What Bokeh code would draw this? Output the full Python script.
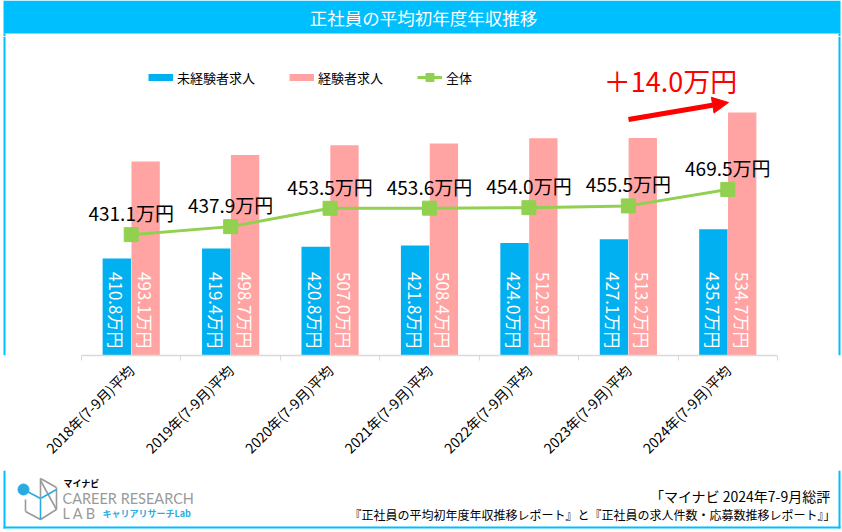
import math
from bokeh.plotting import figure
from bokeh.layouts import column, row
from bokeh.models import (Range1d, LinearAxis, FixedTicker, Legend, LegendItem,
                          Label, Arrow, NormalHead, ColumnDataSource)
from bokeh.core.properties import value
from bokeh.embed import file_html
from bokeh.resources import INLINE

# ---------------- data ----------------
categories = ["2018年(7-9月)平均", "2019年(7-9月)平均", "2020年(7-9月)平均",
              "2021年(7-9月)平均", "2022年(7-9月)平均", "2023年(7-9月)平均",
              "2024年(7-9月)平均"]
inexperienced = [410.8, 419.4, 420.8, 421.8, 424.0, 427.1, 435.7]
experienced = [493.1, 498.7, 507.0, 508.4, 512.9, 513.2, 534.7]
overall = [431.1, 437.9, 453.5, 453.6, 454.0, 455.5, 469.5]
series_names = ["未経験者求人", "経験者求人", "全体"]
unit = "万円"
title_text = "正社員の平均初年度年収推移"
source_lines = ["「マイナビ 2024年7-9月総評",
                "『正社員の平均初年度年収推移レポート』と『正社員の求人件数・応募数推移レポート』」"]

# ---------------- style ----------------
F = "Noto Sans CJK JP"
CYAN = "#00BFFF"
BLUE = "#00B0F0"
PINK = "#FFA3A3"
GREEN = "#92D050"
GRAY = "#9A9A9A"
LCY = "#29ABE2"
Y0, Y1 = 328.5, 599.3
W, H = 842, 532
HEAD_H, FOOT_H = 36, 62
STRIP = 6
MAIN_H = H - HEAD_H - FOOT_H          # 434
FL, FR, FT, FB = 81, 777, 36, 355      # main frame in page pixels


def blank(w, h):
    f = figure(width=w, height=h, x_range=Range1d(0, w), y_range=Range1d(h, 0),
               x_axis_location=None, y_axis_location=None, output_backend="svg",
               toolbar_location=None, min_border=0)
    f.outline_line_color = None
    f.grid.visible = False
    f.background_fill_color = "white"
    f.border_fill_color = "white"
    return f


# ---------------- header ----------------
head = blank(W, HEAD_H)
head.quad(left=[3], right=[840], top=[0], bottom=[33], fill_color=CYAN, line_color=None)
head.quad(left=[3, 838], right=[5, 840], top=[33, 33], bottom=[36, 36], fill_color=CYAN, line_color=None)
head.text(x=[423], y=[17], text=[title_text], text_align="center", text_baseline="middle",
          text_color="white", text_font=value(F), text_font_size="17.5px")

# ---------------- side strips ----------------
lstrip = blank(STRIP, MAIN_H)
lstrip.quad(left=[3], right=[5], top=[0], bottom=[MAIN_H], fill_color=CYAN, line_color=None)
rstrip = blank(STRIP, MAIN_H)
rstrip.quad(left=[2], right=[4], top=[0], bottom=[MAIN_H], fill_color=CYAN, line_color=None)

# ---------------- main chart ----------------
n = len(categories)
idx = list(range(n))
off = 0.145
bw = 0.285

p = figure(width=W - 2 * STRIP, height=MAIN_H, x_range=Range1d(-0.5, n - 0.5),
           y_range=Range1d(Y0, Y1), x_axis_location=None, y_axis_location=None,
           output_backend="svg", toolbar_location=None,
           min_border_left=FL - STRIP, min_border_right=W - STRIP - FR,
           min_border_top=0, min_border_bottom=HEAD_H + MAIN_H - FB)
p.outline_line_color = None
p.grid.visible = False
p.background_fill_color = "white"
p.border_fill_color = "white"


def sx(X):
    return X - FL


def sy(Y):
    return FB - Y


xa = LinearAxis(ticker=FixedTicker(ticks=idx, minor_ticks=[i - 0.5 for i in range(n + 1)]))
xa.major_label_overrides = {i: c for i, c in enumerate(categories)}
xa.major_label_orientation = math.pi / 4
xa.major_label_text_font = F
xa.major_label_text_font_size = "14px"
xa.major_label_text_color = "#000000"
xa.major_label_standoff = 6
xa.major_tick_line_color = None
xa.minor_tick_line_color = "#D9D9D9"
xa.minor_tick_in = 0
xa.minor_tick_out = 5
xa.axis_line_color = "#D9D9D9"
xa.axis_line_width = 1.5
p.add_layout(xa, "below")

src = ColumnDataSource(dict(
    xb=[i - off for i in idx], xp=[i + off for i in idx], x=idx,
    blue=inexperienced, pink=experienced, tot=overall,
    base=[Y0] * n,
    lb=[f"{v:.1f}{unit}" for v in inexperienced],
    lp=[f"{v:.1f}{unit}" for v in experienced],
    lt=[f"{v:.1f}{unit}" for v in overall],
))

p.vbar(x="xb", top="blue", bottom="base", width=bw, source=src, fill_color=BLUE, line_color=None)
p.vbar(x="xp", top="pink", bottom="base", width=bw, source=src, fill_color=PINK, line_color=None)

for xc, lc in (("xb", "lb"), ("xp", "lp")):
    p.text(x=xc, y="base", text=lc, source=src, angle=-math.pi / 2, text_align="right",
           text_baseline="middle", y_offset=-7, text_color="white",
           text_font=value(F), text_font_size="17px")

line_r = p.line(x="x", y="tot", source=src, line_color=GREEN, line_width=3)
sc_r = p.scatter(x="x", y="tot", source=src, marker="square", size=14,
                 fill_color=GREEN, line_color=GREEN)
p.text(x="x", y="tot", text="lt", source=src, text_align="center", text_baseline="middle",
       y_offset=-22, text_color="#000000", text_font=value(F), text_font_size="19px")

# legend swatches for the bar series (invisible dummy lines)
nan = float("nan")
dum_b = p.line(x=[nan], y=[nan], line_color=BLUE, line_width=7)
dum_p = p.line(x=[nan], y=[nan], line_color=PINK, line_width=7)
legend = Legend(items=[LegendItem(label=series_names[0], renderers=[dum_b]),
                       LegendItem(label=series_names[1], renderers=[dum_p]),
                       LegendItem(label=series_names[2], renderers=[line_r, sc_r])],
                orientation="horizontal", location=(sx(148), sy(87)),
                glyph_width=25, glyph_height=20, label_standoff=4, spacing=34,
                padding=0, border_line_color=None, background_fill_alpha=0,
                label_text_font=F, label_text_font_size="13px", label_text_color="#000000")
p.add_layout(legend)

# increase annotation
diff = overall[-1] - overall[-2]
p.add_layout(Label(x=sx(670), y=sy(80), x_units="screen", y_units="screen",
                   text=f"＋{diff:.1f}{unit}", text_align="center", text_baseline="middle",
                   text_color="#FF0000", text_font=F, text_font_size="27px"))
p.add_layout(Arrow(x_start=sx(628), y_start=sy(119), x_end=sx(728), y_end=sy(102),
                   start_units="screen", end_units="screen", line_color="#FF0000", line_width=5,
                   end=NormalHead(size=16, fill_color="#FF0000", line_color="#FF0000")))

# ---------------- footer ----------------
foot = blank(W, FOOT_H)
Y_F = H - FOOT_H  # page y of footer top
foot.quad(left=[3, 838, 3], right=[5, 840, 840], top=[0, 0, 56], bottom=[58, 58, 58],
          fill_color=CYAN, line_color=None)
# source
foot.text(x=[830], y=[495 - Y_F], text=[source_lines[0]], text_align="right",
          text_baseline="middle", text_color="#000000", text_font=value(F), text_font_size="14px")
foot.text(x=[835], y=[514 - Y_F], text=[source_lines[1]], text_align="right",
          text_baseline="middle", text_color="#000000", text_font=value(F), text_font_size="12px")
# logo
segs_gray = [((40, 478), (56, 487)), ((56, 487), (56, 509)), ((56, 509), (40, 519)),
             ((40, 519), (25, 511)), ((25, 511), (25, 499)), ((40, 478), (40, 497)),
             ((40, 480), (56, 509))]
segs_cyan = [((23, 489), (40, 498)), ((40, 498), (56, 489)), ((40, 498), (40, 519))]
for segs, col in ((segs_gray, GRAY), (segs_cyan, LCY)):
    foot.segment(x0=[a[0] for a, b in segs], y0=[a[1] - Y_F for a, b in segs],
                 x1=[b[0] for a, b in segs], y1=[b[1] - Y_F for a, b in segs],
                 line_color=col, line_width=1.6)
foot.scatter(x=[23], y=[489 - Y_F], marker="circle", size=11, fill_color=LCY, line_color=LCY)
foot.text(x=[63], y=[483 - Y_F], text=["マイナビ"], text_align="left", text_baseline="middle",
          text_color="#000000", text_font=value(F), text_font_size="9px", text_font_style="bold")
foot.text(x=[62], y=[498 - Y_F], text=["CAREER RESEARCH"],
          text_align="left", text_baseline="middle", text_color=GRAY,
          text_font=value("Lato"), text_font_size="14.5px")
foot.text(x=[62], y=[513 - Y_F], text=["L A B"],
          text_align="left", text_baseline="middle", text_color=GRAY,
          text_font=value("Lato"), text_font_size="14.5px")
foot.text(x=[102], y=[513 - Y_F], text=["キャリアリサーチLab"], text_align="left",
          text_baseline="middle", text_color=LCY, text_font=value(F), text_font_size="9px",
          text_font_style="bold")

page = column(head, row(lstrip, p, rstrip, spacing=0), foot, spacing=0)
open("out.html", "w").write(file_html(page, INLINE))
